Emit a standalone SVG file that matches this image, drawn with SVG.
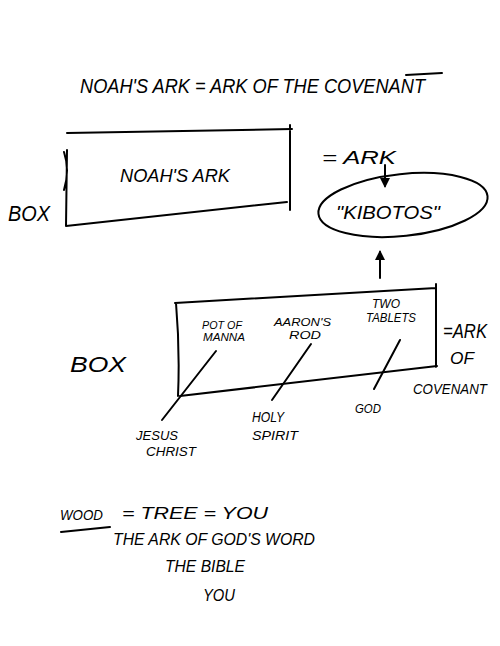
<svg xmlns="http://www.w3.org/2000/svg" width="500" height="646" viewBox="0 0 500 646">
<style>
text{font-family:"Liberation Sans",Arial,sans-serif;fill:#000;font-style:italic}
.l{stroke:#000;stroke-width:2;fill:none;stroke-linecap:round;stroke-linejoin:round}
</style>
<defs>
<marker id="ah" viewBox="0 0 10 10" refX="8" refY="5" markerWidth="5" markerHeight="5" orient="auto"><path d="M0,0 L10,5 L0,10 Z" fill="#000"/></marker>
</defs>
<rect width="500" height="646" fill="#fff"/>
<g id="title">
<text x="80" y="93" font-size="21" textLength="345" lengthAdjust="spacingAndGlyphs">NOAH'S ARK = ARK OF THE COVENANT</text>
<path class="l" d="M406,75 L442,73"/>
</g>
<g id="noahs-box">
<path class="l" d="M67,133 L292,129 M290,125 L290,210 M66,226 L287,202 M67,150 L66,226 M64,152 Q70,170 64,190"/>
<text x="120" y="182" font-size="19" textLength="110" lengthAdjust="spacingAndGlyphs">NOAH'S ARK</text>
</g>
<g id="box-label-1"><text x="8" y="221" font-size="22" textLength="42" lengthAdjust="spacingAndGlyphs">BOX</text></g>
<g id="ark-eq"><text x="322" y="164" font-size="18" textLength="74" lengthAdjust="spacingAndGlyphs">= ARK</text></g>
<g id="kibotos">
<ellipse class="l" cx="403" cy="205" rx="85" ry="31" transform="rotate(-6 403 205)"/>
<text x="336" y="219" font-size="19" textLength="104" lengthAdjust="spacingAndGlyphs">"KIBOTOS"</text>
</g>
<g id="ark-covenant-box">
<path class="l" d="M175,303 L436,288 M436,284 L436,367 M180,396 L437,366 M176,303 Q180,350 178,396"/>
<text x="202" y="329" font-size="11" textLength="40" lengthAdjust="spacingAndGlyphs">POT OF</text>
<text x="203" y="341" font-size="11" textLength="42" lengthAdjust="spacingAndGlyphs">MANNA</text>
<text x="274" y="326" font-size="11" textLength="57" lengthAdjust="spacingAndGlyphs">AARON'S</text>
<text x="289" y="339" font-size="11" textLength="32" lengthAdjust="spacingAndGlyphs">ROD</text>
<text x="372" y="308" font-size="12" textLength="28" lengthAdjust="spacingAndGlyphs">TWO</text>
<text x="366" y="322" font-size="12" textLength="50" lengthAdjust="spacingAndGlyphs">TABLETS</text>
</g>
<g id="box-label-2"><text x="70" y="372" font-size="22" textLength="56" lengthAdjust="spacingAndGlyphs">BOX</text></g>
<g id="ark-of-covenant">
<text x="443" y="338" font-size="20" textLength="44" lengthAdjust="spacingAndGlyphs">=ARK</text>
<text x="450" y="364" font-size="17" textLength="24" lengthAdjust="spacingAndGlyphs">OF</text>
<text x="413" y="394" font-size="15" textLength="74" lengthAdjust="spacingAndGlyphs">COVENANT</text>
</g>
<g id="jesus"><text x="136" y="440" font-size="13" textLength="42" lengthAdjust="spacingAndGlyphs">JESUS</text><text x="146" y="456" font-size="13" textLength="50" lengthAdjust="spacingAndGlyphs">CHRIST</text></g>
<g id="holy-spirit"><text x="252" y="422" font-size="15" textLength="32" lengthAdjust="spacingAndGlyphs">HOLY</text><text x="252" y="440" font-size="13" textLength="46" lengthAdjust="spacingAndGlyphs">SPIRIT</text></g>
<g id="god"><text x="355" y="413" font-size="13" textLength="26" lengthAdjust="spacingAndGlyphs">GOD</text></g>
<g id="bottom">
<text x="60" y="520" font-size="15" textLength="43" lengthAdjust="spacingAndGlyphs">WOOD</text>
<path class="l" d="M61,532 L110,527"/>
<text x="122" y="519" font-size="16" textLength="146" lengthAdjust="spacingAndGlyphs">= TREE = YOU</text>
<text x="113" y="545" font-size="16" textLength="202" lengthAdjust="spacingAndGlyphs">THE ARK OF GOD'S WORD</text>
<text x="165" y="572" font-size="17" textLength="80" lengthAdjust="spacingAndGlyphs">THE BIBLE</text>
<text x="203" y="601" font-size="16" textLength="32" lengthAdjust="spacingAndGlyphs">YOU</text>
</g>
<g id="connectors">
<path class="l" d="M385,165 L385,186" marker-end="url(#ah)"/>
<path class="l" d="M380,278 L380,252" marker-end="url(#ah)"/>
<path class="l" d="M216,351 L162,420"/>
<path class="l" d="M311,344 L272,400"/>
<path class="l" d="M400,340 L374,389"/>
</g>
</svg>
